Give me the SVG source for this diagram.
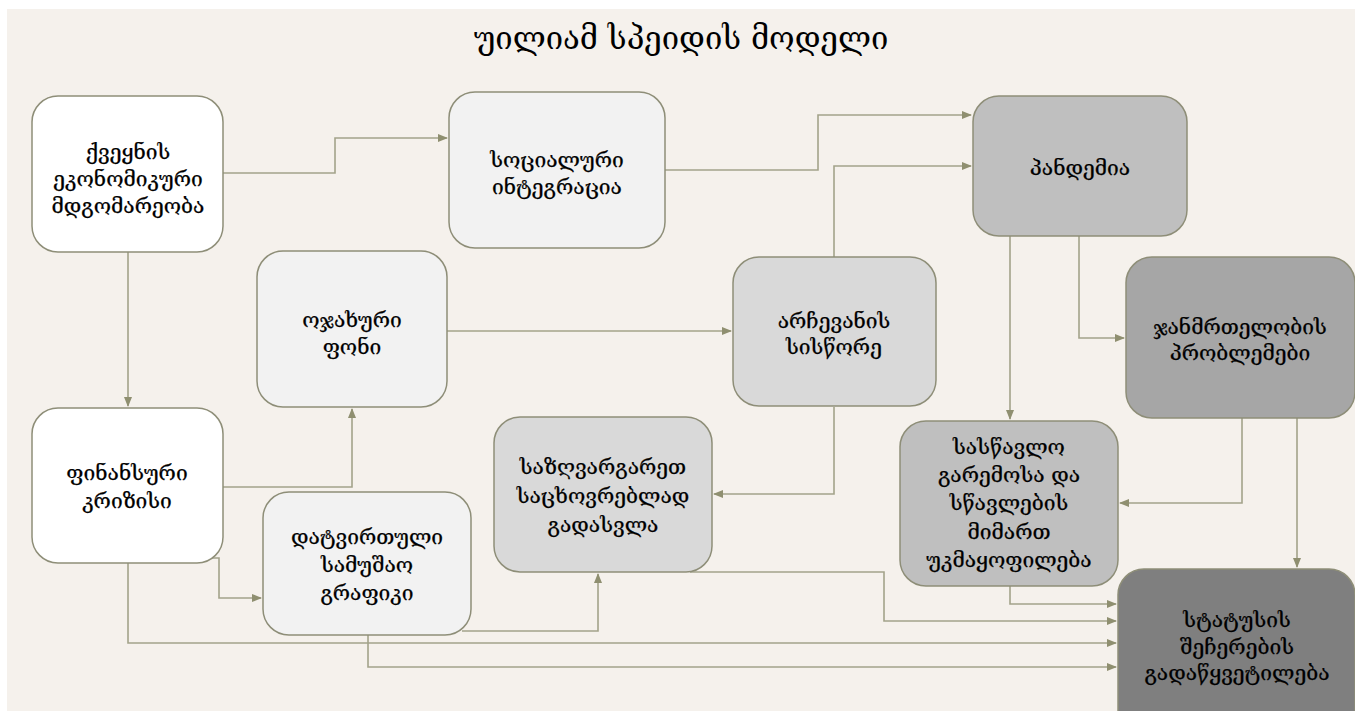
<svg xmlns="http://www.w3.org/2000/svg" width="1362" height="711" viewBox="0 0 1362 711">
<style>
.n{stroke:#8e8e78;stroke-width:1.5}
.t{font-family:"DejaVu Serif","DejaVu Sans",serif;font-size:21px;fill:#000;text-anchor:middle;dominant-baseline:central;stroke:#000;stroke-width:0.25}
.c{fill:none;stroke:#a3a38a;stroke-width:1.6}
</style>
<defs>
<marker id="ah" markerUnits="userSpaceOnUse" markerWidth="10" markerHeight="8" refX="9" refY="4" orient="auto">
<path d="M0,0 L10,4 L0,8 Z" fill="#8f8f70"/>
</marker>
</defs>
<rect width="1362" height="711" fill="#ffffff"/>
<rect x="7" y="9" width="1348" height="702" fill="#f5f1ec"/>
<text x="681" y="38" style="font-family:'DejaVu Serif','DejaVu Sans',serif;font-size:31px;fill:#000;text-anchor:middle;dominant-baseline:central">უილიამ სპეიდის მოდელი</text>
<g id="connectors">
<path class="c" d="M223,173 H335 V138 H447" marker-end="url(#ah)"/>
<path class="c" d="M665,170 H818 V115 H971" marker-end="url(#ah)"/>
<path class="c" d="M834,257 V166 H971" marker-end="url(#ah)"/>
<path class="c" d="M447,331 H731" marker-end="url(#ah)"/>
<path class="c" d="M128,252 V406" marker-end="url(#ah)"/>
<path class="c" d="M223,487 H352 V409" marker-end="url(#ah)"/>
<path class="c" d="M212,558 H219 V598 H261" marker-end="url(#ah)"/>
<path class="c" d="M128,563 V643 H1116" marker-end="url(#ah)"/>
<path class="c" d="M368,635 V667 H1116" marker-end="url(#ah)"/>
<path class="c" d="M462,631 H598 V574" marker-end="url(#ah)"/>
<path class="c" d="M834,407 V494 H714" marker-end="url(#ah)"/>
<path class="c" d="M690,572 H884 V621 H1116" marker-end="url(#ah)"/>
<path class="c" d="M1010,586 V604 H1116" marker-end="url(#ah)"/>
<path class="c" d="M1010,236 V419" marker-end="url(#ah)"/>
<path class="c" d="M1079,236 V338 H1124" marker-end="url(#ah)"/>
<path class="c" d="M1242,418 V503 H1120" marker-end="url(#ah)"/>
<path class="c" d="M1297,418 V567" marker-end="url(#ah)"/>
</g>
<g id="n-econ">
<rect class="n" x="32" y="96" width="191" height="156" rx="26" fill="#ffffff"/>
<text class="t" x="128" y="152">ქვეყნის</text>
<text class="t" x="128" y="179">ეკონომიკური</text>
<text class="t" x="128" y="206">მდგომარეობა</text>
</g>
<g id="n-social">
<rect class="n" x="449" y="92" width="216" height="156" rx="26" fill="#f2f2f2"/>
<text class="t" x="557" y="160">სოციალური</text>
<text class="t" x="557" y="187">ინტეგრაცია</text>
</g>
<g id="n-pandemic">
<rect class="n" x="973" y="96" width="214" height="140" rx="26" fill="#bfbfbf"/>
<text class="t" x="1080" y="168">პანდემია</text>
</g>
<g id="n-family">
<rect class="n" x="257" y="251" width="190" height="156" rx="26" fill="#f2f2f2"/>
<text class="t" x="352" y="320">ოჯახური</text>
<text class="t" x="352" y="347">ფონი</text>
</g>
<g id="n-choice">
<rect class="n" x="733" y="257" width="203" height="149" rx="26" fill="#d9d9d9"/>
<text class="t" x="834" y="321">არჩევანის</text>
<text class="t" x="834" y="347">სისწორე</text>
</g>
<g id="n-health">
<rect class="n" x="1126" y="257" width="229" height="161" rx="26" fill="#a6a6a6"/>
<text class="t" x="1240" y="327">ჯანმრთელობის</text>
<text class="t" x="1240" y="353">პრობლემები</text>
</g>
<g id="n-finance">
<rect class="n" x="32" y="408" width="191" height="155" rx="26" fill="#ffffff"/>
<text class="t" x="127" y="473">ფინანსური</text>
<text class="t" x="127" y="501">კრიზისი</text>
</g>
<g id="n-abroad">
<rect class="n" x="494" y="417" width="218" height="155" rx="26" fill="#d9d9d9"/>
<text class="t" x="603" y="467">საზღვარგარეთ</text>
<text class="t" x="603" y="496">საცხოვრებლად</text>
<text class="t" x="603" y="525">გადასვლა</text>
</g>
<g id="n-study">
<rect class="n" x="900" y="421" width="218" height="165" rx="26" fill="#bfbfbf"/>
<text class="t" x="1009" y="447">სასწავლო</text>
<text class="t" x="1009" y="475">გარემოსა და</text>
<text class="t" x="1009" y="503">სწავლების</text>
<text class="t" x="1009" y="532">მიმართ</text>
<text class="t" x="1009" y="560">უკმაყოფილება</text>
</g>
<g id="n-work">
<rect class="n" x="263" y="492" width="208" height="143" rx="26" fill="#f2f2f2"/>
<text class="t" x="367" y="537">დატვირთული</text>
<text class="t" x="367" y="565">სამუშაო</text>
<text class="t" x="367" y="593">გრაფიკი</text>
</g>
<g id="n-status">
<rect class="n" x="1118" y="569" width="237" height="170" rx="26" fill="#7f7f7f"/>
<text class="t" x="1237" y="620">სტატუსის</text>
<text class="t" x="1237" y="647">შეჩერების</text>
<text class="t" x="1237" y="673">გადაწყვეტილება</text>
</g>
<rect x="1355" y="0" width="7" height="711" fill="#ffffff"/>
</svg>
